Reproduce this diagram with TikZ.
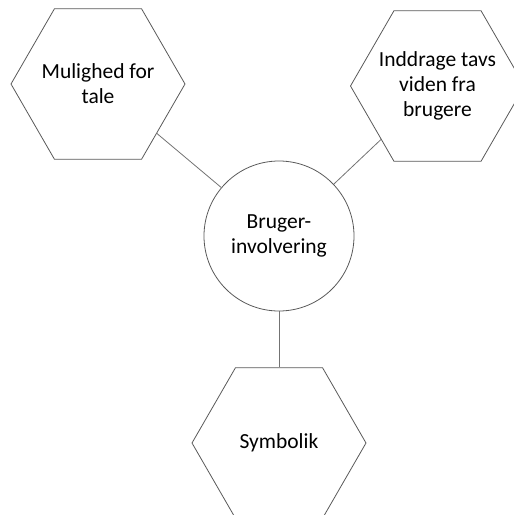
\documentclass[tikz,border=0pt]{standalone}
\usepackage{fontspec}
\setmainfont{Carlito}
\usetikzlibrary{shapes.geometric}
\begin{document}
\begin{tikzpicture}[x=1pt,y=-1pt,
  label text/.style={font=\fontsize{21.5}{25}\selectfont, align=center, text=black},
  hexbox/.style={draw=black!65, line width=0.8pt, regular polygon, regular polygon sides=6,
    minimum size=174pt, inner sep=0pt},
  hubbox/.style={label text, draw=black!65, line width=0.8pt, circle, minimum size=150pt, inner sep=1pt},
  link/.style={draw=black!55, line width=0.8pt}]
  \useasboundingbox (0,0) rectangle (514,515);
  \clip (0,0) rectangle (514,515);

  % central topic
  \node[hubbox] (hub) at (279,236) {Bruger-\\involvering};

  % surrounding aspects: hexagon outline plus centred caption
  \node[hexbox] (tale) at (98,84) {};
  \node[label text] (taletext) at (tale.center) {Mulighed for\\tale};
  \node[hexbox] (tavs) at (437.5,86) {};
  \node[label text] (tavstext) at (tavs.center) {Inddrage tavs\\viden fra\\brugere};
  \node[hexbox] (symb) at (279,443) {};
  \node[label text] (symbtext) at (symb.center) {Symbolik};

  % connectors
  \draw[link] (hub) -- (tale);
  \draw[link] (hub) -- (tavs);
  \draw[link] (hub) -- (symb);
\end{tikzpicture}
\end{document}
